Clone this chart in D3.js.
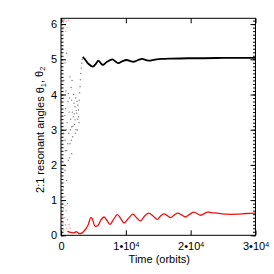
<!DOCTYPE html>
<html>
<head>
<meta charset="utf-8">
<script src="https://cdn.jsdelivr.net/npm/d3@7"></script>
<style>
  body { margin: 0; background: #fff; }
  svg { display: block; font-family: "Liberation Sans", Arial, sans-serif; }
  .axis text { font-size: 11px; fill: #000; }
  .axis line { stroke: #000; }
</style>
</head>
<body>
<div id="chart"></div>
<script>
// data: [time in orbits, angle]
const theta1Scatter = [
  [100, 4.8], [180, 2.2], [250, 5.3], [300, 3.9], [360, 1.37], [420, 2.9], [450, 4.4],
  [520, 2.0], [580, 3.4], [620, 2.7], [620, 1.85], [620, 4.9], [680, 2.4],
  [700, 3.6], [760, 4.1], [820, 3.0], [880, 2.41], [880, 1.56], [880, 5.17], [950, 3.2],
  [1000, 0.9], [1050, 2.6], [1080, 3.8], [1130, 2.13], [1130, 4.03], [1200, 2.9],
  [1250, 3.5], [1300, 3.9], [1350, 2.2], [1390, 2.6], [1390, 4.5], [1450, 3.0],
  [1500, 3.3], [1550, 4.2], [1600, 2.7], [1650, 2.32], [1650, 3.08], [1650, 3.84],
  [1700, 4.4], [1750, 3.5], [1800, 2.8], [1850, 3.1], [1900, 3.37], [1950, 4.0],
  [2000, 3.75], [2050, 3.45], [2100, 3.15], [2160, 3.28], [2160, 3.65], [2200, 2.9],
  [2250, 3.9], [2300, 3.0], [2350, 3.55], [2420, 3.47], [2450, 3.8], [2520, 2.99],
  [2560, 3.3], [2600, 3.7], [2680, 3.56], [2730, 3.37], [2780, 3.2], [2830, 3.84],
  [2880, 4.05], [2940, 4.22], [2990, 4.42], [3040, 4.6], [3120, 4.75], [3200, 4.89],
  [3280, 5.0]
];

const theta2Scatter = [
  [60, 6.1], [120, 5.95], [200, 6.15], [260, 5.85], [350, 6.05], [430, 5.9],
  [520, 6.12], [650, 5.98], [800, 6.08], [950, 5.9], [1200, 6.1], [300, 6.13], [700, 5.8],
  [50, 0.2], [100, 0.6], [150, 0.05], [220, 0.9], [300, 0.35], [380, 0.75],
  [450, 0.15], [520, 0.5], [600, 1.1], [700, 0.3], [800, 0.7], [900, 0.2],
  [1000, 0.45], [1100, 0.1], [1250, 0.3], [1400, 0.2], [250, 0.55], [650, 0.85]
];

const theta1Line = [
  [3350, 5.07], [3700, 5.0], [4200, 4.88], [4900, 4.79], [5400, 4.88], [5770, 4.96],
  [6100, 4.9], [6440, 4.84], [7100, 4.93], [7930, 5.0], [8400, 4.94], [8860, 4.89],
  [9500, 4.95], [10150, 4.98], [10700, 4.95], [11180, 4.93], [12200, 5.0], [12500, 5.01],
  [13500, 4.96], [14500, 4.99], [15560, 5.01], [17000, 5.02], [19600, 5.03], [22000, 5.03],
  [25000, 5.04], [28000, 5.04], [30000, 5.04]
];

const theta2Line = [
  [1000, 0.12], [1500, 0.08], [1900, 0.07], [2400, 0.1], [2800, 0.05], [3200, 0.06],
  [3700, 0.15], [4200, 0.3], [4590, 0.5], [4800, 0.48], [5250, 0.26], [5700, 0.28],
  [6200, 0.45], [6650, 0.52], [7100, 0.42], [7570, 0.31], [8100, 0.45], [8700, 0.585],
  [9200, 0.48], [9740, 0.35], [10400, 0.48], [11080, 0.6], [11700, 0.49], [12260, 0.41],
  [12900, 0.55], [13550, 0.63], [14200, 0.55], [14840, 0.45], [15350, 0.55], [15870, 0.61],
  [16400, 0.56], [16900, 0.5], [17500, 0.58], [18040, 0.63], [18600, 0.58], [19210, 0.52],
  [19900, 0.6], [20510, 0.66], [21500, 0.57], [22570, 0.66], [23300, 0.64], [24100, 0.63],
  [25500, 0.6], [27200, 0.6], [28500, 0.62], [30000, 0.63]
];

const xTicks = [0, 1e4, 2e4, 3e4];
const yTicks = [0, 1, 2, 3, 4, 5, 6];
const yMinorTicks = d3.range(0, 62).map(d => d / 10);

// layout
const width = 274,
      height = 274,
      margins = { top: 18.3, right: 18.5, bottom: 38.7, left: 61 };
const innerW = width - margins.left - margins.right,
      innerH = height - margins.top - margins.bottom;

const xScale = d3.scaleLinear().domain([0, 3e4]).range([0, innerW]);
const yScale = d3.scaleLinear().domain([0, 6.165]).range([innerH, 0]);

const $svg = d3.select('#chart').append('svg')
  .attr('width', width)
  .attr('height', height);

const $g = $svg.append('g')
  .attr('transform', `translate(${margins.left}, ${margins.top})`);

// scatter of early circulating phase
$g.append('g').selectAll('circle')
  .data(theta2Scatter)
  .enter().append('circle')
  .attr('cx', d => xScale(d[0]))
  .attr('cy', d => yScale(d[1]))
  .attr('r', 0.7)
  .style('fill', '#f08a8a');

$g.append('g').selectAll('circle')
  .data(theta1Scatter)
  .enter().append('circle')
  .attr('cx', d => xScale(d[0]))
  .attr('cy', d => yScale(d[1]))
  .attr('r', 0.7)
  .style('fill', '#777');

const line = d3.line()
  .x(d => xScale(d[0]))
  .y(d => yScale(d[1]))
  .curve(d3.curveCatmullRom);

$g.append('path')
  .attr('d', line(theta2Line))
  .style('fill', 'none')
  .style('stroke', '#ee1111')
  .style('stroke-width', 1.3);

$g.append('path')
  .attr('d', line(theta1Line))
  .style('fill', 'none')
  .style('stroke', '#000')
  .style('stroke-width', 1.8);

// frame
$g.append('rect')
  .attr('width', innerW)
  .attr('height', innerH)
  .style('fill', 'none')
  .style('stroke', '#000')
  .style('stroke-width', 1);

// axes, ticks pointing inward
const $yMinorL = $g.append('g').classed('axis', true)
  .call(d3.axisLeft(yScale).tickValues(yMinorTicks).tickSize(-2.5).tickSizeOuter(0).tickFormat(''));
const $yMinorR = $g.append('g').classed('axis', true)
  .attr('transform', `translate(${innerW}, 0)`)
  .call(d3.axisRight(yScale).tickValues(yMinorTicks).tickSize(-2.5).tickSizeOuter(0).tickFormat(''));
const $yAxisL = $g.append('g').classed('axis', true)
  .call(d3.axisLeft(yScale).tickValues(yTicks).tickSize(-5).tickSizeOuter(0).tickPadding(4).tickFormat(d3.format('d')));
const $yAxisR = $g.append('g').classed('axis', true)
  .attr('transform', `translate(${innerW}, 0)`)
  .call(d3.axisRight(yScale).tickValues(yTicks).tickSize(-5).tickSizeOuter(0).tickFormat(''));

const $xAxisB = $g.append('g').classed('axis', true)
  .attr('transform', `translate(0, ${innerH})`)
  .call(d3.axisBottom(xScale).tickValues(xTicks).tickSize(-5).tickSizeOuter(0).tickPadding(7));
const $xAxisT = $g.append('g').classed('axis', true)
  .call(d3.axisTop(xScale).tickValues(xTicks).tickSize(-5).tickSizeOuter(0).tickFormat(''));

[$yMinorL, $yMinorR, $yAxisL, $yAxisR, $xAxisB, $xAxisT].forEach($a => $a.select('.domain').remove());

$xAxisB.selectAll('text').each(function(d) {
  const $t = d3.select(this).text(null);
  if (d === 0) { $t.text('0'); return; }
  $t.append('tspan').text(`${d / 1e4}\u202210`);
  $t.append('tspan').attr('dy', '-0.45em').style('font-size', '7px').text('4');
});

// labels
$svg.append('text')
  .attr('x', margins.left + innerW / 2 + 1)
  .attr('y', 263)
  .attr('text-anchor', 'middle')
  .style('font-size', '11px')
  .text('Time (orbits)');

const $yLabel = $svg.append('text')
  .attr('transform', `translate(44, ${margins.top + innerH / 2 + 3}) rotate(-90)`)
  .attr('text-anchor', 'middle')
  .style('font-size', '11px');
$yLabel.append('tspan').text('2:1 resonant angles \u03b8');
$yLabel.append('tspan').attr('dy', '0.3em').style('font-size', '7.5px').text('1');
$yLabel.append('tspan').attr('dy', '-0.3em').text(', \u03b8');
$yLabel.append('tspan').attr('dy', '0.3em').style('font-size', '7.5px').text('2');
</script>
</body>
</html>
